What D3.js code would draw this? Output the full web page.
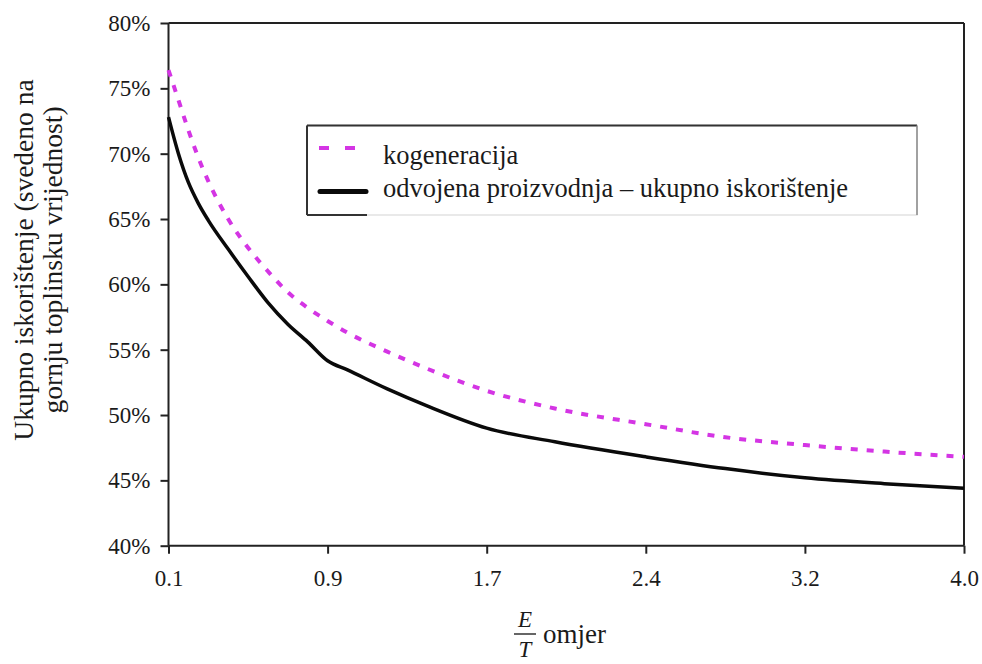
<!DOCTYPE html>
<html>
<head>
<meta charset="utf-8">
<script src="https://cdn.jsdelivr.net/npm/d3@7/dist/d3.min.js"></script>
<style>
  html, body { margin: 0; padding: 0; background: #fff; }
  svg { display: block; }
  text { font-family: "Liberation Serif", "Times New Roman", "DejaVu Serif", serif; fill: #1a1a1a; }
</style>
</head>
<body>
<svg id="chart" width="982" height="664"></svg>
<script>
// ---- data ----
const xTickValues = [0.1, 0.9, 1.7, 2.4, 3.2, 4.0];
const xTickLabels = ["0.1", "0.9", "1.7", "2.4", "3.2", "4.0"];
const yTickValues = [0.40, 0.45, 0.50, 0.55, 0.60, 0.65, 0.70, 0.75, 0.80];

const ratioET = [0.1, 0.15, 0.2, 0.25, 0.3, 0.4, 0.5, 0.6, 0.7, 0.8, 0.9, 1.0, 1.2, 1.4, 1.7, 2.0, 2.4, 2.8, 3.2, 3.6, 4.0];
const kogeneracija = [0.764, 0.741, 0.718, 0.697, 0.679, 0.650, 0.628, 0.610, 0.594, 0.582, 0.572, 0.563, 0.5485, 0.5355, 0.5185, 0.505, 0.493, 0.483, 0.477, 0.472, 0.468];
const odvojena =     [0.728, 0.700, 0.678, 0.662, 0.649, 0.627, 0.606, 0.586, 0.5695, 0.556, 0.5415, 0.5345, 0.520, 0.507, 0.490, 0.4795, 0.468, 0.459, 0.452, 0.4475, 0.444];

const seriesNames = ["kogeneracija", "odvojena proizvodnja \u2013 ukupno iskori\u0161tenje"];
const yTitleLines = ["Ukupno iskori\u0161tenje (svedeno na", "gornju toplinsku vrijednost)"];

// ---- layout ----
const FONT = "'Liberation Serif', 'Times New Roman', 'DejaVu Serif', serif";
const svg = d3.select("#chart");
const plot = { left: 168.5, right: 964, top: 23, bottom: 545.7 };
const magenta = "#d435e4";

const x = d3.scaleLinear()
  .domain(xTickValues)
  .range(xTickValues.map((d, i) => plot.left + i * (plot.right - plot.left) / (xTickValues.length - 1)));
const y = d3.scaleLinear().domain([0.40, 0.80]).range([plot.bottom, plot.top]);

// frame top and right
svg.append("line").attr("x1", plot.left).attr("x2", plot.right).attr("y1", plot.top).attr("y2", plot.top)
  .attr("stroke", "#222").attr("stroke-width", 2);
svg.append("line").attr("x1", plot.right).attr("x2", plot.right).attr("y1", plot.top).attr("y2", plot.bottom)
  .attr("stroke", "#222").attr("stroke-width", 2);

// axes
const yAxis = d3.axisLeft(y).tickValues(yTickValues).tickFormat(d3.format(".0%")).tickSize(8).tickPadding(10);
const gy = svg.append("g").attr("transform", `translate(${plot.left},0)`).call(yAxis);
const xAxis = d3.axisBottom(x).tickValues(xTickValues).tickFormat((d, i) => xTickLabels[i]).tickSize(8).tickPadding(16);
const gx = svg.append("g").attr("transform", `translate(0,${plot.bottom})`).call(xAxis);

[gx, gy].forEach(g => {
  g.attr("font-family", null).attr("font-size", null);
  g.select(".domain").attr("stroke", "#222").attr("stroke-width", 2);
  g.selectAll(".tick line").attr("stroke", "#222").attr("stroke-width", 2);
  g.selectAll(".tick text").style("font-family", FONT).style("font-size", "23px").attr("fill", "#1a1a1a");
});
gx.select(".domain").attr("d", `M${plot.left},0H${plot.right}`);
gy.select(".domain").attr("d", `M0,${plot.bottom}V${plot.top}`);

// lines
const pts = (vals) => ratioET.map((r, i) => [r, vals[i]]);
const line = d3.line().x(d => x(d[0])).y(d => y(d[1])).curve(d3.curveMonotoneX);

svg.append("path").datum(pts(odvojena)).attr("d", line)
  .attr("fill", "none").attr("stroke", "#0a0a0a").attr("stroke-width", 3.5).attr("stroke-linejoin", "round");
svg.append("path").datum(pts(kogeneracija)).attr("d", line)
  .attr("fill", "none").attr("stroke", magenta).attr("stroke-width", 4).attr("stroke-dasharray", "7,9");

// legend
const lg = { x: 307, y: 125.5, w: 610, h: 89.5 };
const leg = svg.append("g");
leg.append("rect").attr("x", lg.x).attr("y", lg.y).attr("width", lg.w).attr("height", lg.h)
  .attr("fill", "#fff").attr("stroke", "#e2e2e2").attr("stroke-width", 1.5);
leg.append("line").attr("x1", lg.x).attr("x2", lg.x + lg.w).attr("y1", lg.y).attr("y2", lg.y).attr("stroke", "#333").attr("stroke-width", 2);
leg.append("line").attr("x1", lg.x).attr("x2", lg.x).attr("y1", lg.y).attr("y2", lg.y + lg.h).attr("stroke", "#333").attr("stroke-width", 2);
leg.append("line").attr("x1", lg.x + lg.w).attr("x2", lg.x + lg.w).attr("y1", lg.y).attr("y2", lg.y + lg.h).attr("stroke", "#888").attr("stroke-width", 1.5);
leg.append("line").attr("x1", lg.x).attr("x2", lg.x + 60).attr("y1", lg.y + lg.h).attr("y2", lg.y + lg.h).attr("stroke", "#333").attr("stroke-width", 2);

leg.append("line").attr("x1", lg.x + 12).attr("x2", lg.x + 50).attr("y1", 148).attr("y2", 148)
  .attr("stroke", magenta).attr("stroke-width", 4).attr("stroke-dasharray", "10,16");
leg.append("line").attr("x1", lg.x + 13).attr("x2", lg.x + 59).attr("y1", 191.5).attr("y2", 191.5)
  .attr("stroke", "#0a0a0a").attr("stroke-width", 5).attr("stroke-linecap", "round");
leg.selectAll("text.item").data(seriesNames).join("text").attr("class", "item")
  .attr("x", 383).attr("y", (d, i) => 164 + i * 33)
  .style("font-family", FONT).style("font-size", "26.5px").text(d => d);

// y title
svg.append("g").attr("transform", "translate(0,260)")
  .selectAll("text").data(yTitleLines).join("text")
  .attr("transform", (d, i) => `translate(${33 + i * 29},0) rotate(-90)`)
  .attr("text-anchor", "middle").style("font-family", FONT).style("font-size", "27.5px").text(d => d);

// x title (fraction E/T omjer)
const xt = svg.append("g");
xt.append("text").attr("x", 525).attr("y", 627).attr("text-anchor", "middle")
  .style("font-family", FONT).style("font-size", "23px").style("font-style", "italic").text("E");
xt.append("line").attr("x1", 514).attr("x2", 536).attr("y1", 634).attr("y2", 634).attr("stroke", "#333").attr("stroke-width", 1.5);
xt.append("text").attr("x", 525).attr("y", 657).attr("text-anchor", "middle")
  .style("font-family", FONT).style("font-size", "23px").style("font-style", "italic").text("T");
xt.append("text").attr("x", 543).attr("y", 643).style("font-family", FONT).style("font-size", "27px").text("omjer");
</script>
</body>
</html>
